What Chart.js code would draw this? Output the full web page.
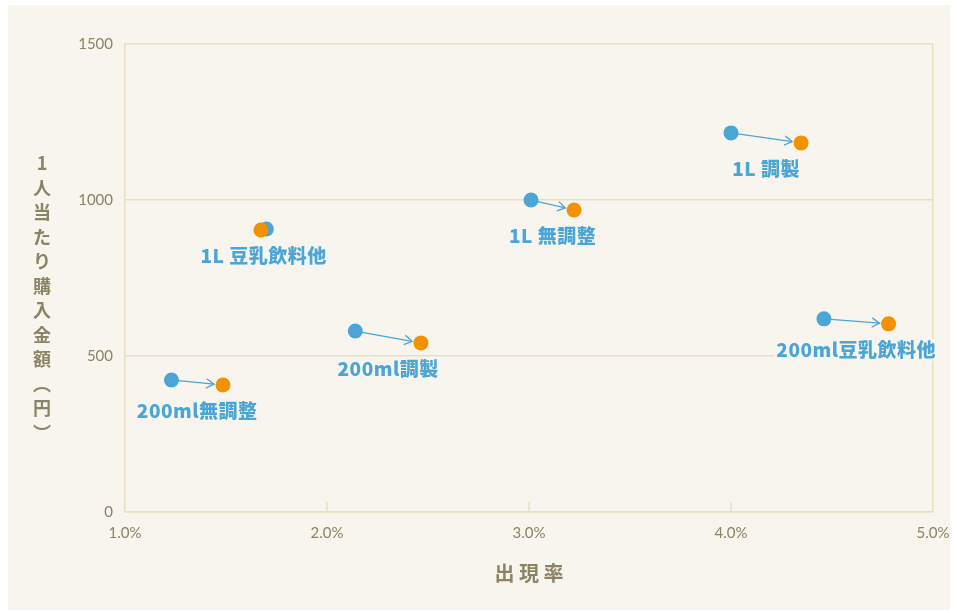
<!DOCTYPE html>
<html lang="ja">
<head>
<meta charset="utf-8">
<script src="https://cdn.jsdelivr.net/npm/chart.js@4/dist/chart.umd.min.js"></script>
<style>
  html,body{margin:0;padding:0;background:#fff;}
  #panel{position:absolute;left:8px;top:5px;width:942px;height:605px;background:#f8f5ee;}
  #wrap{position:absolute;left:0;top:0;width:957px;height:613px;}
</style>
</head>
<body>
<div id="panel"></div>
<div id="wrap"><canvas id="chart" width="957" height="613"></canvas></div>
<script>
// 商品カテゴリ
const products=['200ml無調整','1L 豆乳飲料他','200ml調製','1L 無調整','1L 調製','200ml豆乳飲料他'];
// 前期（青）
const rateBefore=[1.23,1.70,2.14,3.01,4.00,4.46];
const spendBefore=[423,907,580,1000,1215,619];
// 今期（オレンジ）
const rateAfter=[1.485,1.673,2.465,3.223,4.347,4.78];
const spendAfter=[407,904,542,968,1183,603];
// 軸
const xTicks=[1,2,3,4,5];
const yTicks=[0,500,1000,1500];
const yTitle=['1','人','当','た','り','購','入','金','額','︵','円','︶'];
const xTitle='出 現 率';

const BLUE='#4ba6d6', ORANGE='#f39200', TXT='#8a8464', GRID='#e7dfbd', BG='#f8f5ee';

const pts=(xs,ys)=>xs.map((x,i)=>({x,y:ys[i]}));

// 矢印・ラベル・タイトル
const decor={
  id:'decor',
  afterDatasetsDraw(chart){
    const c=chart.ctx, a=chart.chartArea;
    const mb=chart.getDatasetMeta(1).data, ma=chart.getDatasetMeta(0).data;
    const xs=chart.scales.x;
    c.save();
    // x軸の目盛（内側）
    c.strokeStyle=GRID;c.lineWidth=1.5;
    xTicks.slice(1,-1).forEach(v=>{
      const px=xs.getPixelForValue(v);
      c.beginPath();c.moveTo(px,a.bottom);c.lineTo(px,a.bottom-10);c.stroke();
    });
    // 矢印
    c.strokeStyle=BLUE;c.lineWidth=1.3;
    mb.forEach((b,i)=>{
      const o=ma[i];
      const dx=o.x-b.x, dy=o.y-b.y, d=Math.hypot(dx,dy);
      if(d<20)return;
      const ux=dx/d, uy=dy/d;
      const sx=b.x+ux*7, sy=b.y+uy*7;
      const ex=o.x-ux*9, ey=o.y-uy*9;
      c.beginPath();c.moveTo(sx,sy);c.lineTo(ex,ey);c.stroke();
      const ang=Math.atan2(dy,dx), L=9;
      c.beginPath();
      c.moveTo(ex-L*Math.cos(ang-0.55),ey-L*Math.sin(ang-0.55));
      c.lineTo(ex,ey);
      c.lineTo(ex-L*Math.cos(ang+0.55),ey-L*Math.sin(ang+0.55));
      c.stroke();
    });
    // ラベル
    c.font='900 19px "Noto Sans CJK JP"';
    c.letterSpacing='0.5px';
    c.textAlign='center';c.textBaseline='middle';
    products.forEach((p,i)=>{
      const b=mb[i], o=ma[i];
      const cx=(b.x+o.x)/2, cy=Math.max(b.y,o.y)+26;
      const w=c.measureText(p).width;
      c.fillStyle=BG;c.fillRect(cx-w/2-2,cy-11,w+4,22);
      c.fillStyle=BLUE;c.fillText(p,cx,cy);
    });
    c.letterSpacing='0px';
    // 軸タイトル
    c.fillStyle=TXT;
    c.font='bold 18px "Noto Sans CJK JP"';
    const mid=298, step=24.5;
    yTitle.forEach((ch,i)=>{
      c.fillText(ch,42,mid+(i-(yTitle.length-1)/2)*step);
    });
    c.font='bold 20px "Noto Sans CJK JP"';
    c.fillText(xTitle,(a.left+a.right)/2,573);
    c.restore();
  }
};

new Chart(document.getElementById('chart'),{
  type:'scatter',
  data:{datasets:[
    {label:'今期',data:pts(rateAfter,spendAfter),backgroundColor:ORANGE,borderWidth:0,pointRadius:7.5,order:0},
    {label:'前期',data:pts(rateBefore,spendBefore),backgroundColor:BLUE,borderWidth:0,pointRadius:7.5,order:1}
  ]},
  options:{
    responsive:false,animation:false,
    events:[],
    layout:{padding:{left:0,right:24,top:44,bottom:0}},
    plugins:{legend:{display:false},tooltip:{enabled:false}},
    scales:{
      x:{
        type:'linear',min:xTicks[0],max:xTicks[xTicks.length-1],
        afterBuildTicks:s=>{s.ticks=xTicks.map(v=>({value:v}));},
        afterFit:s=>{s.height=101;s.paddingLeft=0;s.paddingRight=0;},
        border:{color:GRID,width:1.5},
        grid:{drawTicks:false,color:ctx=>ctx.tick&&ctx.tick.value===5?GRID:'rgba(0,0,0,0)',lineWidth:1.5},
        ticks:{padding:12,color:TXT,font:{family:'Lato',size:15},maxRotation:0,callback:v=>v.toFixed(1)+'%'}
      },
      y:{
        min:yTicks[0],max:yTicks[yTicks.length-1],
        afterBuildTicks:s=>{s.ticks=yTicks.map(v=>({value:v}));},
        afterFit:s=>{s.width=125;s.paddingTop=0;s.paddingBottom=0;},
        border:{color:GRID,width:1.5},
        grid:{drawTicks:false,color:GRID,lineWidth:1.5},
        ticks:{padding:12,color:TXT,font:{family:'Lato',size:15},callback:v=>String(v)}
      }
    }
  },
  plugins:[decor]
});
</script>
</body>
</html>
